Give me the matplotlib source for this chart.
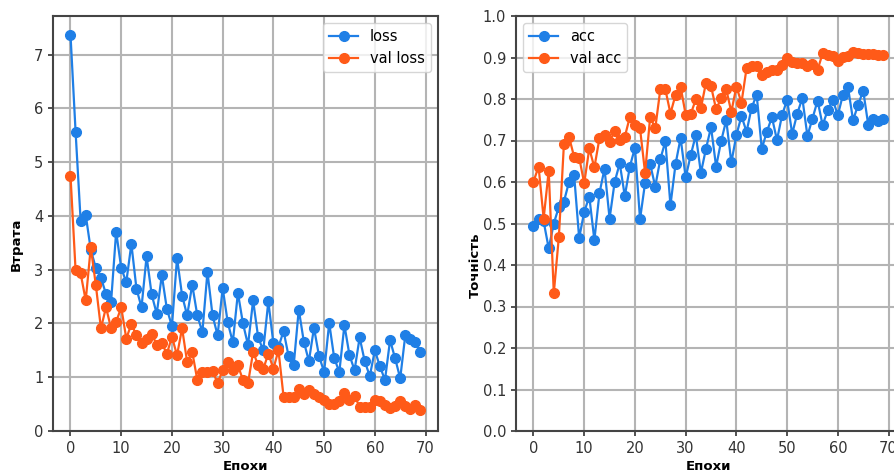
import numpy as np
import matplotlib.pyplot as plt

# values
epochs = np.arange(70)

loss = [7.37, 5.57, 3.91, 4.02, 3.37, 3.03, 2.85, 2.55, 2.40, 3.71,
        3.03, 2.77, 3.48, 2.65, 2.30, 3.25, 2.54, 2.18, 2.90, 2.27,
        1.95, 3.22, 2.52, 2.15, 2.72, 2.15, 1.84, 2.96, 2.15, 1.78,
        2.66, 2.02, 1.65, 2.57, 2.00, 1.60, 2.43, 1.74, 1.50, 2.41,
        1.63, 1.56, 1.86, 1.39, 1.22, 2.26, 1.66, 1.30, 1.92, 1.39,
        1.10, 2.01, 1.35, 1.10, 1.97, 1.41, 1.13, 1.74, 1.30, 1.02,
        1.50, 1.20, 0.95, 1.69, 1.35, 0.98, 1.78, 1.72, 1.66, 1.47]

val_loss = [4.75, 2.99, 2.93, 2.43, 3.42, 2.71, 1.91, 2.30, 1.91, 2.03,
            2.30, 1.72, 1.99, 1.78, 1.63, 1.72, 1.81, 1.60, 1.63, 1.44,
            1.75, 1.41, 1.91, 1.28, 1.47, 0.95, 1.10, 1.10, 1.12, 0.89,
            1.13, 1.28, 1.13, 1.22, 0.95, 0.89, 1.47, 1.22, 1.15, 1.44,
            1.16, 1.50, 0.64, 0.64, 0.63, 0.79, 0.69, 0.76, 0.68, 0.63,
            0.58, 0.51, 0.51, 0.55, 0.70, 0.58, 0.65, 0.45, 0.44, 0.44,
            0.58, 0.55, 0.49, 0.42, 0.46, 0.55, 0.46, 0.41, 0.49, 0.39]

acc = [0.495, 0.510, 0.505, 0.440, 0.500, 0.540, 0.553, 0.600, 0.618, 0.465,
       0.528, 0.565, 0.460, 0.573, 0.632, 0.512, 0.600, 0.645, 0.566, 0.637,
       0.683, 0.510, 0.598, 0.643, 0.589, 0.655, 0.698, 0.544, 0.643, 0.706,
       0.611, 0.665, 0.713, 0.622, 0.680, 0.732, 0.637, 0.699, 0.749, 0.647,
       0.713, 0.759, 0.721, 0.779, 0.810, 0.680, 0.721, 0.756, 0.701, 0.761,
       0.798, 0.716, 0.765, 0.802, 0.711, 0.753, 0.796, 0.737, 0.773, 0.798,
       0.761, 0.810, 0.828, 0.749, 0.786, 0.820, 0.737, 0.751, 0.748, 0.753]

val_acc = [0.601, 0.637, 0.512, 0.627, 0.332, 0.468, 0.692, 0.709, 0.661, 0.659,
           0.597, 0.681, 0.635, 0.705, 0.713, 0.696, 0.724, 0.701, 0.709, 0.757,
           0.737, 0.729, 0.622, 0.757, 0.729, 0.823, 0.823, 0.765, 0.810, 0.830,
           0.762, 0.764, 0.799, 0.778, 0.839, 0.831, 0.775, 0.802, 0.823, 0.769,
           0.830, 0.791, 0.874, 0.879, 0.879, 0.858, 0.866, 0.871, 0.871, 0.882,
           0.898, 0.890, 0.886, 0.886, 0.880, 0.884, 0.870, 0.910, 0.906, 0.904,
           0.892, 0.902, 0.904, 0.914, 0.911, 0.908, 0.908, 0.908, 0.906, 0.906]

blue = '#1f7fe6'
orange = '#ff5a18'

fig = plt.figure(figsize=(8.95, 4.74), dpi=100)
W, H = 895, 474
ax1 = fig.add_axes([53 / W, 43 / H, 385 / W, 415 / H])
ax2 = fig.add_axes([516 / W, 43 / H, 385 / W, 415 / H])

style = dict(marker='o', markersize=7, linewidth=1.6)

ax1.plot(epochs, loss, color=blue, label='loss', **style)
ax1.plot(epochs, val_loss, color=orange, label='val loss', **style)
ax1.set_ylim(0, 7.72)
ax1.legend(loc='upper right', fontsize=10.5)
ax1.set_ylabel('Втрата', fontsize=9.5, fontweight='bold')
ax1.yaxis.set_label_coords(-0.078, 0.45)

ax2.plot(epochs, acc, color=blue, label='acc', **style)
ax2.plot(epochs, val_acc, color=orange, label='val acc', **style)
ax2.set_ylim(0, 1.0)
ax2.set_yticks(np.arange(0, 1.01, 0.1))
ax2.legend(loc='upper left', fontsize=10.5)
ax2.set_ylabel('Точність', fontsize=9.5, fontweight='bold')
ax2.yaxis.set_label_coords(-0.088, 0.40)

for ax in (ax1, ax2):
    ax.set_xticks([0, 10, 20, 30, 40, 50, 60, 70])
    ax.set_xlabel('Епохи', fontsize=9.5, fontweight='bold', labelpad=3)
    ax.grid(True, color='#b4b4b4', linewidth=1.5)
    ax.tick_params(labelsize=10.5, colors='#333333', width=1.2)
    for s in ax.spines.values():
        s.set_color('#444444')
        s.set_linewidth(1.5)

fig.savefig('out.png', dpi=100)
